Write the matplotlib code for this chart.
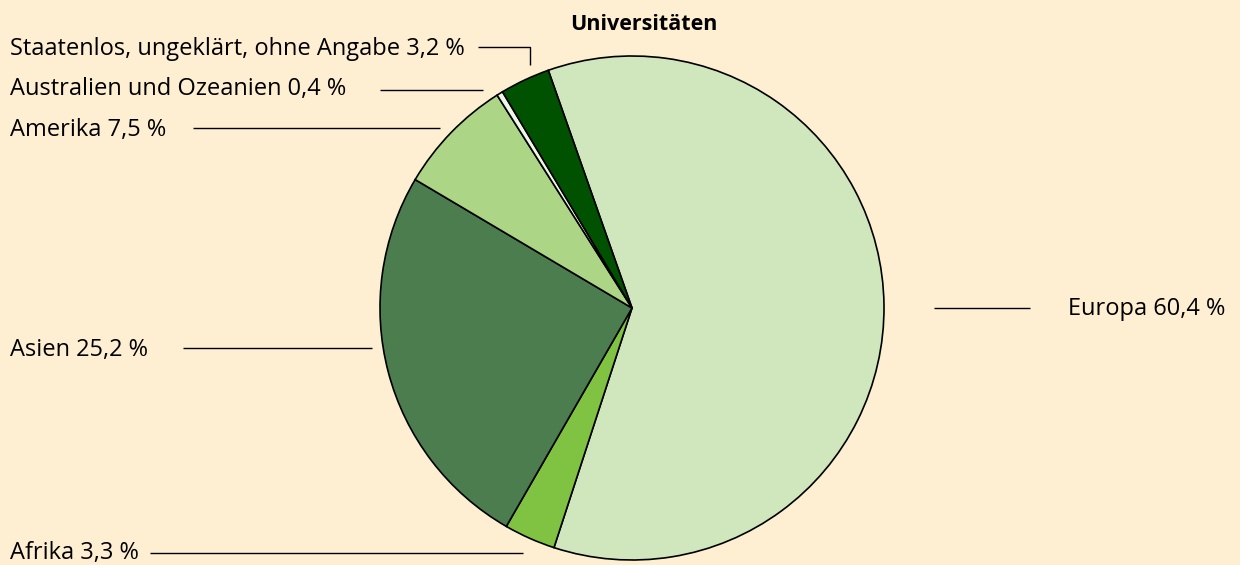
import matplotlib.pyplot as plt

plt.rcParams['font.family'] = ['Open Sans', 'DejaVu Sans']

# Anteile nach Herkunft (Universitäten), im Uhrzeigersinn ab Europa
regionen = ["Europa", "Afrika", "Asien", "Amerika",
            "Australien und Ozeanien", "Staatenlos, ungeklärt, ohne Angabe"]
anteile = [60.4, 3.3, 25.2, 7.5, 0.4, 3.2]
farben = ["#d0e6bc", "#80c242", "#4b7d4f", "#acd585", "#eef7e8", "#005200"]

W, H = 1240, 565
bg = "#feefd3"

fig = plt.figure(figsize=(W / 100, H / 100), dpi=100, facecolor=bg)
ax = fig.add_axes([0, 0, 1, 1])
ax.set_facecolor(bg)
ax.set_xlim(0, W)
ax.set_ylim(0, H)
ax.set_aspect("equal")
ax.axis("off")

cx, cy, r = 632, H - 308, 252
ax.pie(anteile, colors=farben, center=(cx, cy), radius=r,
       startangle=109.4, counterclock=False,
       wedgeprops=dict(edgecolor="black", linewidth=1.2))
ax.set_xlim(0, W)
ax.set_ylim(0, H)

ax.text(644, H - 24, "Universitäten", ha="center", va="center",
        fontsize=15.5, fontweight="bold")


def label(text, tx, ty, line, ha="left"):
    ax.text(tx, H - ty, text, ha=ha, va="center", fontsize=17)
    xs = [p[0] for p in line]
    ys = [H - p[1] for p in line]
    ax.plot(xs, ys, color="black", linewidth=1.0, solid_capstyle="butt")


fmt = lambda i: f"{regionen[i]} {anteile[i]:.1f} %".replace(".", ",")

label(fmt(5), 10, 49, [(478, 47), (530, 47), (530, 65)])
label(fmt(4), 10, 89, [(380, 90), (483, 90)])
label(fmt(3), 10, 130, [(193, 128), (440, 128)])
label(fmt(2), 10, 350, [(183, 348), (372, 348)])
label(fmt(1), 10, 553, [(150, 553), (523, 553)])
label(fmt(0), 1225, 309, [(934, 308), (1030, 308)], ha="right")

fig.savefig("out.png", dpi=100, facecolor=bg)
